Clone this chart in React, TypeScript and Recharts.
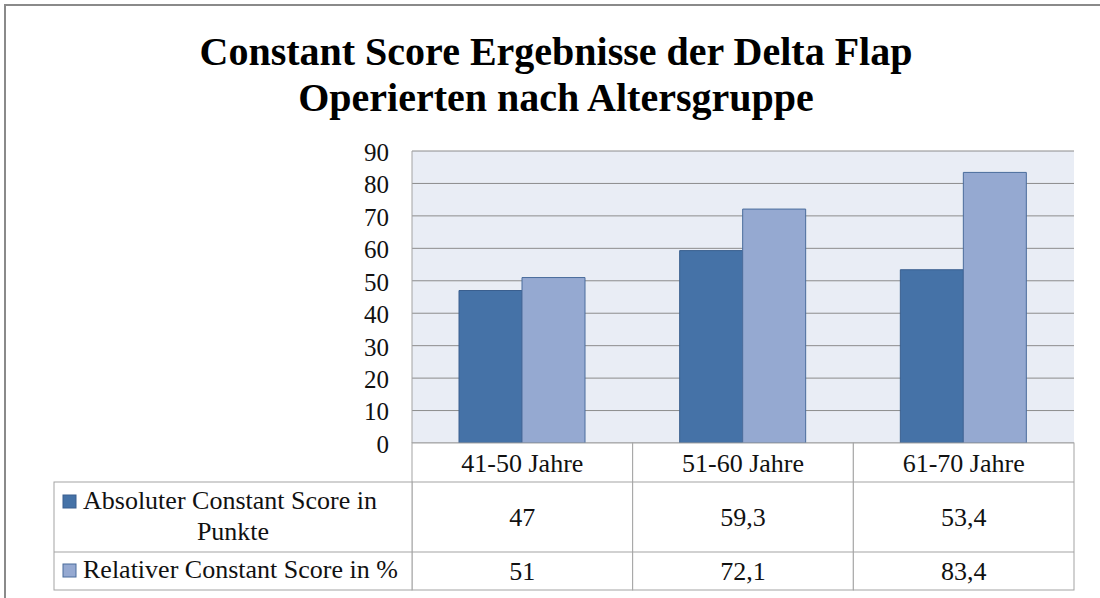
import React from "react";
import { BarChart, Bar, XAxis, YAxis, CartesianGrid } from "recharts";

const categories = ["41-50 Jahre", "51-60 Jahre", "61-70 Jahre"];
const absoluteScore = [47, 59.3, 53.4];
const relativeScore = [51, 72.1, 83.4];
const yTicks = [0, 10, 20, 30, 40, 50, 60, 70, 80, 90];
const seriesNames = ["Absoluter Constant Score in Punkte", "Relativer Constant Score in %"];

const data = categories.map((c, i) => ({
  name: c,
  abs: absoluteScore[i],
  rel: relativeScore[i],
}));

const FONT = "Liberation Serif";
const DARK = "#4572a7";
const LIGHT = "#95a9d1";
const BORDER = "#a3a3a3";

const PLOT_LEFT = 412;
const PLOT_RIGHT = 1074;
const PLOT_TOP = 151;
const PLOT_BOTTOM = 443;
const BAND = (PLOT_RIGHT - PLOT_LEFT) / categories.length;
const ROW1 = 482;
const ROW2 = 552;
const ROW3 = 590;
const LABEL_LEFT = 54;

const fmt = (v: number) => String(v).replace(".", ",");

// draws one column of the data table under each category tick
const TableTick = (props: any) => {
  const { x, payload, index } = props;
  const left = x - BAND / 2;
  return (
    <g fontFamily={FONT} fontSize={26} fill="#111">
      <rect x={left} y={PLOT_BOTTOM} width={BAND} height={ROW3 - PLOT_BOTTOM} fill="#fff" stroke={BORDER} />
      <line x1={left} x2={left + BAND} y1={ROW1} y2={ROW1} stroke={BORDER} />
      <line x1={left} x2={left + BAND} y1={ROW2} y2={ROW2} stroke={BORDER} />
      <text x={x} y={472} textAnchor="middle">{payload.value}</text>
      <text x={x} y={526} textAnchor="middle">{fmt(absoluteScore[index])}</text>
      <text x={x} y={580} textAnchor="middle">{fmt(relativeScore[index])}</text>
      {index === 0 && (
        <g>
          <rect x={LABEL_LEFT} y={ROW1} width={PLOT_LEFT - LABEL_LEFT} height={ROW3 - ROW1} fill="#fff" stroke={BORDER} />
          <line x1={LABEL_LEFT} x2={PLOT_LEFT} y1={ROW2} y2={ROW2} stroke={BORDER} />
          <rect x={63} y={495} width={13} height={13} fill={DARK} stroke="#3a5f8f" />
          <text x={83} y={509}>Absoluter Constant Score in</text>
          <text x={(LABEL_LEFT + PLOT_LEFT) / 2} y={540} textAnchor="middle">Punkte</text>
          <rect x={63} y={564} width={13} height={13} fill={LIGHT} stroke="#4a6c9c" />
          <text x={83} y={578}>Relativer Constant Score in %</text>
        </g>
      )}
    </g>
  );
};

export default function App() {
  return (
    <div style={{ position: "absolute", left: 0, top: 0, width: 1100, height: 598, background: "#fff", overflow: "hidden" }}>
      <div
        style={{
          position: "absolute",
          left: 4,
          top: 4,
          width: 1200,
          height: 700,
          border: "2px solid #8a8a8a",
        }}
      />
      <div
        style={{
          position: "absolute",
          left: 0,
          top: 29,
          width: 1112,
          textAlign: "center",
          fontFamily: FONT,
          fontWeight: "bold",
          fontSize: 40,
          lineHeight: "46px",
          color: "#000",
        }}
      >
        Constant Score Ergebnisse der Delta Flap
        <br />
        Operierten nach Altersgruppe
      </div>
      <div style={{ position: "absolute", left: 0, top: 0 }}>
        <BarChart
          width={1100}
          height={598}
          data={data}
          margin={{ top: PLOT_TOP, right: 1100 - PLOT_RIGHT, left: PLOT_LEFT - 60, bottom: 0 }}
          barGap={0}
          barSize={63}
        >
          <CartesianGrid vertical={false} fill="#e9edf5" stroke="#8c8c8c" horizontalValues={yTicks} />
          <YAxis
            width={60}
            domain={[0, 90]}
            ticks={yTicks}
            interval={0}
            tickLine={false}
            tickSize={0}
            tickMargin={23}
            axisLine={{ stroke: BORDER }}
            tick={{ fontFamily: FONT, fontSize: 25, fill: "#111", dy: 1 }}
          />
          <XAxis
            dataKey="name"
            height={598 - PLOT_BOTTOM}
            axisLine={false}
            tickLine={false}
            interval={0}
            tick={<TableTick />}
          />
          <Bar dataKey="abs" name={seriesNames[0]} fill={DARK} stroke="#3a5f8f" isAnimationActive={false} />
          <Bar dataKey="rel" name={seriesNames[1]} fill={LIGHT} stroke="#4a6c9c" isAnimationActive={false} />
        </BarChart>
      </div>
    </div>
  );
}
